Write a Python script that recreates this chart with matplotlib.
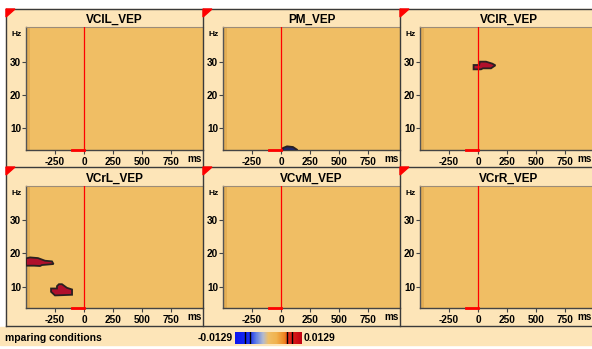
import numpy as np
import matplotlib.pyplot as plt
from matplotlib.colors import LinearSegmentedColormap, Normalize
from matplotlib.cm import ScalarMappable
from matplotlib.patches import Polygon, Rectangle
from matplotlib.lines import Line2D

# data
titles = ['VCIL_VEP', 'PM_VEP', 'VCIR_VEP', 'VCrL_VEP', 'VCvM_VEP', 'VCrR_VEP']
x_ticks = [-250, 0, 250, 500, 750]
y_ticks = [10, 20, 30]
baseline = [-100, 0]
vmin, vmax = -0.0129, 0.0129
thresholds = [-0.0090, -0.0072, 0.0072, 0.0090]

# outlines of significant clusters (ms, Hz)
pm_t = [9, 17, 52, 103, 138, 138]
pm_f = [3.0, 4.1, 4.6, 4.4, 3.6, 3.0]
vcir_t = [-38, -38, 26, 43, 112, 150, 124, 69, 17, 9]
vcir_f = [29.0, 27.7, 27.7, 28.0, 28.0, 28.9, 29.4, 30.0, 30.0, 29.0]
vcrl1_t = [-500, -500, -465, -397, -336, -276, -263, -362, -379, -431]
vcrl1_f = [16.3, 18.5, 18.8, 18.6, 17.8, 17.6, 16.8, 16.5, 16.2, 16.3]
vcrl2_t = [-284, -284, -250, -103, -103, -147, -190, -216, -233, -233]
vcrl2_f = [9.4, 8.4, 7.3, 7.5, 9.1, 9.6, 10.7, 10.7, 10.1, 9.4]

NEG = '#1E2868'
POS = '#B0102C'
clusters = {
    1: [(pm_t, pm_f, NEG)],
    2: [(vcir_t, vcir_f, POS)],
    3: [(vcrl1_t, vcrl1_f, POS), (vcrl2_t, vcrl2_f, POS)],
}

W, H = 592, 349
BG = '#F0BE64'
PANEL = '#FDE5B8'
NARROW = ['Liberation Sans Narrow', 'Liberation Sans', 'DejaVu Sans']

fig = plt.figure(figsize=(W / 100, H / 100), dpi=100, facecolor='white')


def fline(x0, y0, x1, y1, color='#3a3a3a', lw=1.0):
    fig.add_artist(Line2D([x0 / W, x1 / W], [1 - y0 / H, 1 - y1 / H],
                          transform=fig.transFigure, color=color, lw=lw,
                          zorder=10))


# panel background and frame
fig.patches.append(Rectangle((6 / W, 1 - 326 / H), (W - 6) / W, 317 / H,
                             transform=fig.transFigure, color=PANEL, zorder=-2))
fig.patches.append(Rectangle((0, 1 - 345 / H), 1, 18 / H,
                             transform=fig.transFigure, color=PANEL, zorder=-2))
fline(6, 9, W, 9)
fline(6, 167, W, 167)
fline(6, 326, W, 326)
for xx in [6, 203, 400]:
    fline(xx, 9, xx, 326)

cols = [6, 203, 400]
for i, title in enumerate(titles):
    r, c = divmod(i, 3)
    px = cols[c]
    top = [27, 186][r]
    bot = [150, 308][r]
    ptop = [9, 167][r]

    # red corner mark
    fig.patches.append(Polygon([[px / W, 1 - ptop / H], [(px + 9) / W, 1 - ptop / H],
                                [px / W, 1 - (ptop + 8) / H]],
                               closed=True, transform=fig.transFigure,
                               color='#FF0000', zorder=11))

    ax = fig.add_axes([(px + 20) / W, 1 - bot / H, 177 / W, (bot - top) / H])
    ax.set_facecolor(BG)
    ax.set_xlim(-500, 1026)
    ax.set_ylim(3.5, 40.4)
    ax.add_patch(Rectangle((0, 0), 4 / 177, 1, transform=ax.transAxes,
                           color='#E3AE55', lw=0, zorder=0))

    for t, f, col in clusters.get(i, []):
        ax.fill(t, f, facecolor=col, edgecolor='#2a2020', lw=1.3, zorder=3)

    ax.axvline(0, color='#FF0000', lw=0.9, zorder=4)
    ax.plot(baseline, [3.5, 3.5], color='#FF0000', lw=2, clip_on=False, zorder=6)

    ax.spines['right'].set_visible(False)
    ax.spines['top'].set_color('#9c8c78')
    ax.spines['top'].set_linewidth(0.8)
    ax.spines['left'].set_color('#555555')
    ax.spines['bottom'].set_color('#444444')
    ax.spines['left'].set_linewidth(1.0)
    ax.spines['bottom'].set_linewidth(1.0)

    ax.set_xticks(x_ticks)
    ax.set_yticks(y_ticks)
    ax.set_xticklabels([str(v) for v in x_ticks], family=NARROW,
                       fontweight='bold', fontsize=7.2)
    ax.set_yticklabels([str(v) for v in y_ticks], family=NARROW,
                       fontweight='bold', fontsize=7.2)
    ax.tick_params(axis='x', length=3, width=0.8, pad=2, color='#444444')
    ax.tick_params(axis='y', length=3, width=0.8, pad=0.5, color='#444444')

    fig.text((px + 20 + 88.5) / W, 1 - [22.5, 181.5][r] / H, title,
             ha='center', va='baseline', fontsize=8.5, fontweight='bold',
             family=['Liberation Sans', 'DejaVu Sans'])
    fig.text((px + 6) / W, 1 - (top + 7.5) / H, 'Hz', ha='left', va='center',
             fontsize=6, fontweight='bold', family=NARROW)
    fig.text(min(px + 181, 577) / W, 1 - (bot + 9) / H, 'ms', ha='left',
             va='center', fontsize=7.2, fontweight='bold', family=NARROW)

# colour scale
cmap = LinearSegmentedColormap.from_list('besa', [
    (0.0, '#0A14F0'), (0.22, '#1830F0'), (0.32, '#6482E4'), (0.42, '#B4BACE'),
    (0.5, BG), (0.62, '#F0B24E'), (0.74, '#EE8420'), (0.8, '#E22818'),
    (1.0, '#C20012')])
cax = fig.add_axes([235 / W, 1 - 344 / H, 67 / W, 12 / H])
cb = fig.colorbar(ScalarMappable(Normalize(vmin, vmax), cmap), cax=cax,
                  orientation='horizontal')
cb.outline.set_visible(False)
cax.set_xticks([])
for v in thresholds:
    cax.axvline(v, color='black', lw=1)

fig.text(233 / W, 1 - 338 / H, f'{vmin}', ha='right', va='center',
         fontsize=7.5, fontweight='bold', family=NARROW)
fig.text(304 / W, 1 - 338 / H, f'{vmax}', ha='left', va='center',
         fontsize=7.5, fontweight='bold', family=NARROW)
fig.text(5 / W, 1 - 338 / H, 'mparing conditions', ha='left', va='center',
         fontsize=7.5, fontweight='bold', family=NARROW)

fig.savefig('out.png', dpi=100, facecolor='white')
